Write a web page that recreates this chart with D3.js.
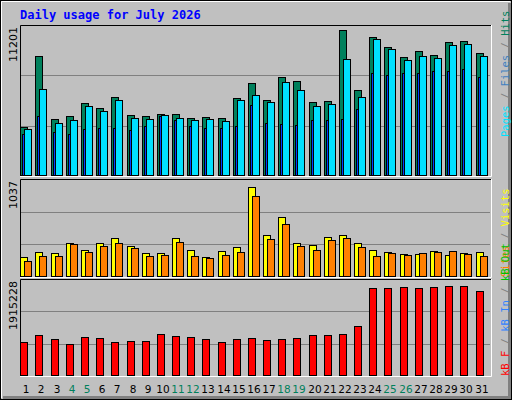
<!DOCTYPE html>
<html><head><meta charset="utf-8">
<script src="https://cdn.jsdelivr.net/npm/d3@7"></script>
<style>body{margin:0;background:#fff}svg{display:block}</style></head>
<body><svg id="c" width="512" height="400"></svg>
<script>
const days = d3.range(1,32);
const weekend = [4,5,11,12,18,19,25,26];
const hits = [3683,9096,4285,4510,5488,5112,6014,4585,4510,4661,4661,4360,4435,4360,5939,7066,5788,7517,7216,5563,5713,11050,6540,10524,9772,9020,9471,9171,10148,10223,9321];
const files = [3533,6615,3984,4210,5262,4886,5788,4360,4285,4585,4360,4210,4285,4134,5788,6164,5563,7141,6540,5262,5412,8870,6014,10374,9622,8795,9096,8945,9922,9998,9096];
const pages = [3157,4510,3307,3157,3533,3608,3608,3458,3758,4510,4210,3758,3608,3608,3758,5337,3984,3909,3834,4210,4210,4285,5036,7818,7667,7818,7818,7968,7968,8118,7517];
const visits = [217,271,260,367,292,367,421,335,260,260,431,292,217,282,324,987,463,656,367,346,442,463,367,292,271,249,249,282,239,260,271];
const sites = [175,228,228,356,271,335,367,314,228,239,378,228,207,239,271,880,410,581,335,292,399,421,324,228,260,239,260,271,282,249,228];
const kbytes = [692,833,753,652,793,773,692,712,712,853,813,793,753,692,753,773,732,753,773,833,833,853,1015,1801,1801,1821,1801,1821,1841,1841,1741].map(v=>v*1000);
const maxHits = 11201, maxVisits = 1037, maxKB = 1915228;

const svg = d3.select("#c");
svg.append("rect").attr("x",0.5).attr("y",0.5).attr("width",511).attr("height",399).attr("fill","#c0c0c0").attr("stroke","#000");
svg.append("path").attr("d","M3,397.5H509.5V3").attr("fill","none").attr("stroke","#808080").attr("stroke-width",3);
svg.append("path").attr("d","M1.5,398V1.5H510").attr("fill","none").attr("stroke","#fff");
svg.append("text").attr("x",20).attr("y",19).text("Daily usage for July 2026")
  .attr("font-family","DejaVu Sans Mono").attr("font-weight","bold").attr("font-size",12).attr("fill","#0000ff");

const x = d3.scaleBand().domain(days).range([20,491]).paddingInner(0).paddingOuter(0.02);
const step = x.step();

function panel(y0,y1,max){
  svg.append("rect").attr("x",20).attr("y",y0).attr("width",471).attr("height",y1-y0).attr("fill","#c0c0c0");
  const y = d3.scaleLinear().domain([0,max]).range([y1,y0+3]);
  [1/3,2/3].forEach(f=>{const gy=Math.round(y1-(y1-y0)*f)+0.5;
    svg.append("line").attr("x1",21).attr("x2",490).attr("y1",gy).attr("y2",gy).attr("stroke","#808080");});
  svg.append("path").attr("d",`M20.5,${y1}V${y0+0.5}H491`).attr("fill","none").attr("stroke","#000");
  svg.append("path").attr("d",`M20,${y1+0.5}H491.5V${y0}`).attr("fill","none").attr("stroke","#fff");
  svg.append("text").attr("transform",`translate(17,${y0+2}) rotate(-90)`).attr("text-anchor","end")
    .attr("font-family","DejaVu Sans").attr("font-size",11).attr("fill","#000").text(max);
  return y;
}
function bars(data,y,dx,w,fill,y1){
  svg.append("g").selectAll("rect").data(data).join("rect")
    .attr("x",(d,i)=>Math.round(x(days[i]))+dx+0.5).attr("y",d=>Math.round(y(d))+0.5)
    .attr("width",w).attr("height",d=>y1-Math.round(y(d))-1)
    .attr("fill",fill).attr("stroke","#000");
}
const y1a=176, y1b=277, y1c=376;
const yA=panel(25,y1a,maxHits);
bars(hits,yA,0,7,"#00805c",y1a);
bars(files,yA,4,7,"#00e0ff",y1a);
bars(pages,yA,2,2,"#0040ff",y1a);
const yB=panel(179,y1b,maxVisits);
bars(visits,yB,0,7,"#ffff00",y1b);
bars(sites,yB,4,7,"#ff8000",y1b);
const yC=panel(279,y1c,maxKB);
bars(kbytes,yC,0,7,"#ff0000",y1c);

svg.append("g").selectAll("text").data(days).join("text")
  .attr("x",d=>Math.round(x(d))+6).attr("y",393).attr("text-anchor","middle")
  .attr("font-family","DejaVu Sans").attr("font-size",10.5)
  .attr("fill",d=>weekend.includes(d)?"#00805c":"#000").text(d=>d);

function vlabel(y,parts){
  const t=svg.append("text").attr("transform",`translate(509,${y}) rotate(-90)`)
    .attr("font-family","DejaVu Sans Mono").attr("font-size",10.5);
  parts.forEach(([s,c])=>t.append("tspan").attr("fill",c).text(s));
}
vlabel(137,[["Pages","#00e0ff"],[" / ","#808080"],["Files","#4080c0"],[" / ","#808080"],["Hits","#00805c"]]);
vlabel(277,[["Sites","#ff8000"],[" / ","#808080"],["Visits","#ffff00"]]);
vlabel(376,[["kB F","#ff0000"],[" / ","#808080"],["kB In","#3080ff"],[" / ","#808080"],["kB Out","#00c000"]]);
</script></body></html>
